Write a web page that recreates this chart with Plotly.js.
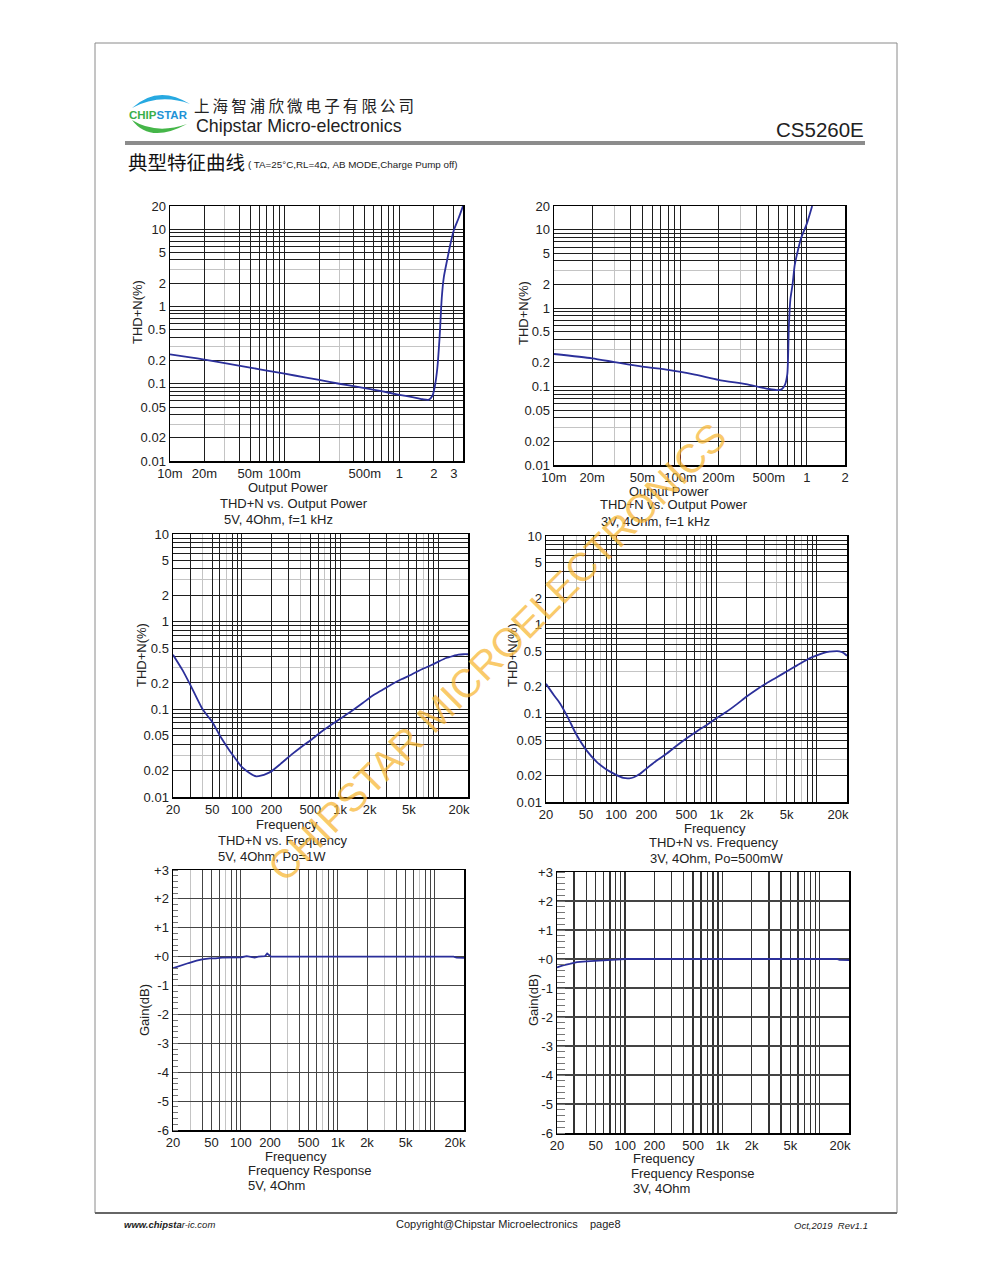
<!DOCTYPE html>
<html>
<head>
<meta charset="utf-8">
<script src="https://cdn.plot.ly/plotly-3.0.1.min.js"></script>
<style>
html,body{margin:0;padding:0;background:#fff;}
#chart{width:991px;height:1263px;}
</style>
</head>
<body>
<div id="chart"></div>
<script>
// ---------------- DATA ----------------
// Chart 1: THD+N vs Output Power, 5V, 4Ohm, f=1kHz
const power5V = [0.01, 0.015, 0.02, 0.03, 0.05, 0.07, 0.1, 0.15, 0.2, 0.3, 0.5, 0.7, 1.0, 1.3, 1.6, 1.8, 1.95, 2.05, 2.15, 2.25, 2.35, 2.45, 2.6, 2.8, 3.0, 3.3, 3.6];
const thdPower5V = [0.24, 0.22, 0.205, 0.185, 0.162, 0.148, 0.135, 0.121, 0.112, 0.1, 0.088, 0.08, 0.072, 0.067, 0.063, 0.062, 0.07, 0.095, 0.16, 0.4, 1.3, 2.4, 3.8, 6.5, 9.8, 14, 20];

// Chart 2: THD+N vs Output Power, 3V, 4Ohm, f=1kHz
const power3V = [0.01, 0.02, 0.03, 0.05, 0.08, 0.13, 0.2, 0.35, 0.5, 0.58, 0.63, 0.67, 0.7, 0.72, 0.74, 0.77, 0.8, 0.85, 0.9, 1.0, 1.1];
const thdPower3V = [0.26, 0.229, 0.205, 0.179, 0.163, 0.142, 0.122, 0.105, 0.093, 0.09, 0.092, 0.105, 0.145, 0.6, 1.3, 2.0, 3.5, 5.5, 7.8, 12, 20];

// Chart 3: THD+N vs Frequency, 5V, 4Ohm, Po=1W
const freqThd5V = [20, 25, 30, 40, 50, 62, 75, 85, 100, 120, 140, 160, 180, 200, 250, 320, 400, 510, 650, 820, 1000, 1300, 1700, 2100, 2600, 3300, 4200, 5300, 6700, 8500, 10000, 12000, 14000, 16000, 18000, 20000];
const thdFreq5V = [0.42, 0.28, 0.19, 0.1, 0.072, 0.047, 0.034, 0.028, 0.022, 0.0188, 0.0172, 0.0176, 0.0185, 0.0196, 0.024, 0.0304, 0.037, 0.045, 0.056, 0.067, 0.078, 0.095, 0.118, 0.141, 0.163, 0.191, 0.22, 0.248, 0.285, 0.32, 0.35, 0.385, 0.405, 0.42, 0.425, 0.425];

// Chart 4: THD+N vs Frequency, 3V, 4Ohm, Po=500mW
const freqThd3V = [20, 24, 27.5, 33, 40, 50, 64, 75, 87, 100, 118, 135, 150, 170, 200, 250, 320, 400, 500, 640, 800, 1000, 1260, 1600, 2000, 2500, 3160, 4000, 5000, 6300, 7900, 9000, 10800, 12500, 14500, 16800, 18500, 20000];
const thdFreq3V = [0.215, 0.16, 0.13, 0.09, 0.058, 0.039, 0.0284, 0.0245, 0.022, 0.0202, 0.0187, 0.0185, 0.019, 0.0205, 0.0238, 0.029, 0.0352, 0.043, 0.052, 0.063, 0.074, 0.088, 0.104, 0.127, 0.155, 0.185, 0.219, 0.255, 0.297, 0.345, 0.40, 0.43, 0.466, 0.49, 0.50, 0.50, 0.48, 0.446];

// Chart 5: Frequency Response, 5V, 4Ohm
const freqGain5V = [20, 22.8, 25, 29, 35, 40, 48, 55, 64, 80, 102, 115, 128, 139, 152, 170, 178, 187, 196, 205, 300, 1000, 5000, 15600, 16800, 20000];
const gain5V = [-0.40, -0.33, -0.29, -0.22, -0.14, -0.09, -0.06, -0.06, -0.03, -0.03, -0.02, 0.02, 0.0, -0.03, 0.0, 0.0, 0.02, 0.11, 0.04, 0.0, 0.0, 0.0, 0.0, 0.0, -0.03, -0.04];

// Chart 6: Frequency Response, 3V, 4Ohm
const freqGain3V = [20, 23, 27, 32, 40, 47, 60, 80, 100, 1000, 10000, 15000, 16000, 20000];
const gain3V = [-0.29, -0.22, -0.17, -0.11, -0.08, -0.06, -0.03, -0.02, 0.0, 0.0, 0.0, 0.0, -0.03, -0.04];

// Tick labels
const powerTicks5V = [0.01, 0.02, 0.05, 0.1, 0.5, 1, 2, 3];
const powerText5V = ['10m', '20m', '50m', '100m', '500m', '1', '2', '3'];
const powerTicks3V = [0.01, 0.02, 0.05, 0.1, 0.2, 0.5, 1, 2];
const powerText3V = ['10m', '20m', '50m', '100m', '200m', '500m', '1', '2'];
const freqTicks = [20, 50, 100, 200, 500, 1000, 2000, 5000, 20000];
const freqText = ['20', '50', '100', '200', '500', '1k', '2k', '5k', '20k\u00a0\u00a0\u00a0\u00a0\u00a0'];
const thdTicks20 = [0.01, 0.02, 0.05, 0.1, 0.2, 0.5, 1, 2, 5, 10, 20];
const thdText20 = ['0.01', '0.02', '0.05', '0.1', '0.2', '0.5', '1', '2', '5', '10', '20'];
const thdTicks10 = [0.01, 0.02, 0.05, 0.1, 0.2, 0.5, 1, 2, 5, 10];
const thdText10 = ['0.01', '0.02', '0.05', '0.1', '0.2', '0.5', '1', '2', '5', '10'];
const gainTicks = [-6, -5, -4, -3, -2, -1, 0, 1, 2, 3];
const gainText = ['-6', '-5', '-4', '-3', '-2', '-1', '+0', '+1', '+2', '+3'];

// ---------------- HELPERS ----------------
const W = 991, H = 1263;
const px = x => x / W;
const py = y => 1 - y / H;
const FONT = 'Liberation Sans, Arial, Helvetica, sans-serif';
const CJK = 'Noto Sans CJK SC, sans-serif';
const LINE = '#2b2f9a';

function logTicks(lo, hi, labelVals, labelText, lightDigits) {
  const major = [], text = [], minor = [];
  for (let k = Math.floor(Math.log10(lo)); k <= Math.ceil(Math.log10(hi)); k++) {
    for (let d = 1; d <= 9; d++) {
      const v = +(d * Math.pow(10, k)).toPrecision(6);
      if (v < lo * 0.999 || v > hi * 1.001) continue;
      const li = labelVals.findIndex(l => Math.abs(l - v) / v < 1e-6);
      if (li < 0 && lightDigits.includes(d)) { minor.push(v); continue; }
      major.push(v); text.push(li >= 0 ? labelText[li] : '');
    }
  }
  return { major, text, minor };
}

function logAxis(dom, lo, hi, labelVals, labelText, lightDigits, anchor, gridColor) {
  const t = logTicks(lo, hi, labelVals, labelText, lightDigits);
  return {
    type: 'log', domain: dom, anchor: anchor,
    range: [Math.log10(lo), Math.log10(hi)],
    tickmode: 'array', tickvals: t.major, ticktext: t.text,
    showgrid: true, gridcolor: gridColor || '#1e1e1e', gridwidth: 1,
    minor: { tickmode: 'array', tickvals: t.minor, showgrid: true, gridcolor: '#c4c4c4', gridwidth: 1, ticks: '' },
    showline: true, mirror: true, linecolor: '#000', linewidth: 1.5,
    ticks: '', zeroline: false, fixedrange: true,
    tickfont: { family: FONT, size: 13, color: '#222' }
  };
}

function gainAxis(dom, anchor, gridColor, tl) {
  return {
    domain: dom, anchor: anchor, range: [-6, 3],
    tickmode: 'array', tickvals: gainTicks, ticktext: gainText,
    showgrid: true, gridcolor: gridColor, gridwidth: 1,
    minor: { dtick: 0.2, ticks: 'inside', ticklen: tl, tickcolor: '#777', tickwidth: 1, showgrid: false },
    showline: true, mirror: true, linecolor: '#000', linewidth: 1.5,
    ticks: '', zeroline: false, fixedrange: true,
    tickfont: { family: FONT, size: 13, color: '#222' }
  };
}

const xd = (a, b) => [px(a), px(b)];
const yd = (top, bot) => [py(bot), py(top)];

// ---------------- TRACES ----------------
const lineStyle = { color: LINE, width: 1.8, shape: 'spline', smoothing: 0.6 };
const traces = [
  { x: power5V, y: thdPower5V, xaxis: 'x', yaxis: 'y', mode: 'lines', line: lineStyle, hoverinfo: 'skip' },
  { x: power3V, y: thdPower3V, xaxis: 'x2', yaxis: 'y2', mode: 'lines', line: lineStyle, hoverinfo: 'skip' },
  { x: freqThd5V, y: thdFreq5V, xaxis: 'x3', yaxis: 'y3', mode: 'lines', line: lineStyle, hoverinfo: 'skip' },
  { x: freqThd3V, y: thdFreq3V, xaxis: 'x4', yaxis: 'y4', mode: 'lines', line: lineStyle, hoverinfo: 'skip' },
  { x: freqGain5V, y: gain5V, xaxis: 'x5', yaxis: 'y5', mode: 'lines', line: { color: LINE, width: 1.8 }, hoverinfo: 'skip' },
  { x: freqGain3V, y: gain3V, xaxis: 'x6', yaxis: 'y6', mode: 'lines', line: { color: LINE, width: 1.8 }, hoverinfo: 'skip' }
];

// ---------------- ANNOTATIONS ----------------
function txt(x, y, text, size, opts) {
  return Object.assign({
    xref: 'paper', yref: 'paper', x: px(x), y: py(y), text: text, showarrow: false,
    xanchor: 'center', yanchor: 'middle', borderpad: 0,
    font: { family: FONT, size: size, color: '#222' }
  }, opts || {});
}
function ytitle(x, y, text) { return txt(x, y, text, 13, { textangle: -90 }); }
const spaced = s => s.split('').join('\u2009');

const annotations = [
  // header
  txt(193, 105, spaced('上海智浦欣微电子有限公司'), 15.5, { xanchor: 'left', font: { family: CJK, size: 15.5, color: '#222' } }),
  txt(195, 126, 'Chipstar Micro-electronics', 17.8, { xanchor: 'left' }),
  txt(865, 129, 'CS5260E', 20.5, { xanchor: 'right' }),
  txt(127, 161, '典型特征曲线', 19.5, { xanchor: 'left', font: { family: CJK, size: 19.5, color: '#111' } }),
  txt(247, 164, '( TA=25°C,RL=4Ω, AB MODE,Charge Pump off)', 9.8, { xanchor: 'left' }),
  txt(158, 115, '<b><span style="color:#3aae49">CHIP</span><span style="color:#1f93d6">STAR</span></b>', 11.5, {}),
  // footer
  txt(123, 1224, '<i><b>www.chipsta</b>r-ic.com</i>', 9.5, { xanchor: 'left' }),
  txt(508, 1224, 'Copyright@Chipstar Microelectronics    page8', 11, {}),
  txt(869, 1225, '<i>Oct,2019  Rev1.1</i>', 9.5, { xanchor: 'right' }),
  // chart 1
  ytitle(138, 312, 'THD+N(%)'),
  txt(288, 487, 'Output Power', 13),
  txt(294, 503, 'THD+N vs. Output Power', 13),
  txt(223, 519, '5V, 4Ohm, f=1 kHz', 13, { xanchor: 'left' }),
  // chart 2
  ytitle(524, 313, 'THD+N(%)'),
  txt(669, 491, 'Output Power', 13),
  txt(674, 505, 'THD+N vs. Output Power', 13),
  txt(600, 521, '3V, 4Ohm, f=1 kHz', 13, { xanchor: 'left' }),
  // chart 3
  ytitle(141, 655, 'THD+N(%)'),
  txt(287, 824, 'Frequency', 13),
  txt(282, 840, 'THD+N vs. Frequency', 13),
  txt(217, 856, '5V, 4Ohm, Po=1W', 13, { xanchor: 'left' }),
  // chart 4
  ytitle(512, 655, 'THD+N(%)'),
  txt(715, 828, 'Frequency', 13),
  txt(713, 842, 'THD+N vs. Frequency', 13),
  txt(649, 858, '3V, 4Ohm, Po=500mW', 13, { xanchor: 'left' }),
  // chart 5
  ytitle(144, 1010, 'Gain(dB)'),
  txt(296, 1156, 'Frequency', 13),
  txt(310, 1170, 'Frequency Response', 13),
  txt(247, 1185, '5V, 4Ohm', 13, { xanchor: 'left' }),
  // chart 6
  ytitle(533, 1000, 'Gain(dB)'),
  txt(664, 1158, 'Frequency', 13),
  txt(693, 1173, 'Frequency Response', 13),
  txt(632, 1188, '3V, 4Ohm', 13, { xanchor: 'left' }),
  // watermark
  txt(497, 652, 'CHIPSTAR MICROELECTRONICS', 40, { textangle: -45, font: { family: FONT, size: 40, color: 'rgba(248,182,50,0.72)' } })
];

// ---------------- SHAPES (page decoration) ----------------
const shapes = [
  { type: 'rect', xref: 'paper', yref: 'paper', x0: px(95), x1: px(897), y0: py(1213), y1: py(43), line: { color: '#8a8a8a', width: 1 }, layer: 'below' },
  { type: 'line', xref: 'paper', yref: 'paper', x0: px(95), x1: px(897), y0: py(1213), y1: py(1213), line: { color: '#666', width: 2 } },
  { type: 'rect', xref: 'paper', yref: 'paper', x0: px(125), x1: px(865), y0: py(145), y1: py(141), fillcolor: '#8c8c8c', line: { width: 0 } },
  { type: 'path', xref: 'paper', yref: 'paper',
    path: 'M ' + px(132) + ',' + py(108) + ' Q ' + px(158) + ',' + py(84) + ' ' + px(190) + ',' + py(104) + ' Q ' + px(160) + ',' + py(93) + ' ' + px(132) + ',' + py(108) + ' Z',
    fillcolor: '#27a9e1', line: { width: 0 } },
  { type: 'path', xref: 'paper', yref: 'paper',
    path: 'M ' + px(132) + ',' + py(120) + ' Q ' + px(150) + ',' + py(144) + ' ' + px(187) + ',' + py(124) + ' Q ' + px(156) + ',' + py(135) + ' ' + px(132) + ',' + py(120) + ' Z',
    fillcolor: '#45b649', line: { width: 0 } }
];

// ---------------- LAYOUT ----------------
const layout = {
  width: W, height: H, margin: { l: 0, r: 0, t: 0, b: 0 },
  paper_bgcolor: '#fff', plot_bgcolor: '#fff', showlegend: false,
  font: { family: FONT, color: '#222' },
  xaxis: logAxis(xd(170, 463), 0.01, 3.6, powerTicks5V, powerText5V, [3], 'y'),
  yaxis: logAxis(yd(206, 461), 0.01, 20, thdTicks20, thdText20, [3], 'x'),
  xaxis2: logAxis(xd(554, 845), 0.01, 2, powerTicks3V, powerText3V, [3], 'y2'),
  yaxis2: logAxis(yd(206, 465), 0.01, 20, thdTicks20, thdText20, [3], 'x2'),
  xaxis3: logAxis(xd(173, 468), 20, 20000, freqTicks, freqText, [4, 7], 'y3'),
  yaxis3: logAxis(yd(534, 797), 0.01, 10, thdTicks10, thdText10, [3], 'x3'),
  xaxis4: logAxis(xd(546, 847), 20, 20000, freqTicks, freqText, [4, 7], 'y4'),
  yaxis4: logAxis(yd(536, 802), 0.01, 10, thdTicks10, thdText10, [3], 'x4'),
  xaxis5: logAxis(xd(173, 464), 20, 20000, freqTicks, freqText, [3, 7], 'y5', '#444'),
  yaxis5: gainAxis(yd(870, 1130), 'x5', '#444', 5),
  xaxis6: logAxis(xd(557, 849), 20, 20000, freqTicks, freqText, [], 'y6', '#333'),
  yaxis6: gainAxis(yd(872, 1133), 'x6', '#444', 8),
  annotations: annotations,
  shapes: shapes
};
layout.xaxis6.gridwidth = 1.5;
layout.yaxis6.gridwidth = 1.5;

Plotly.newPlot('chart', traces, layout, { displayModeBar: false, staticPlot: true });
</script>
</body>
</html>
